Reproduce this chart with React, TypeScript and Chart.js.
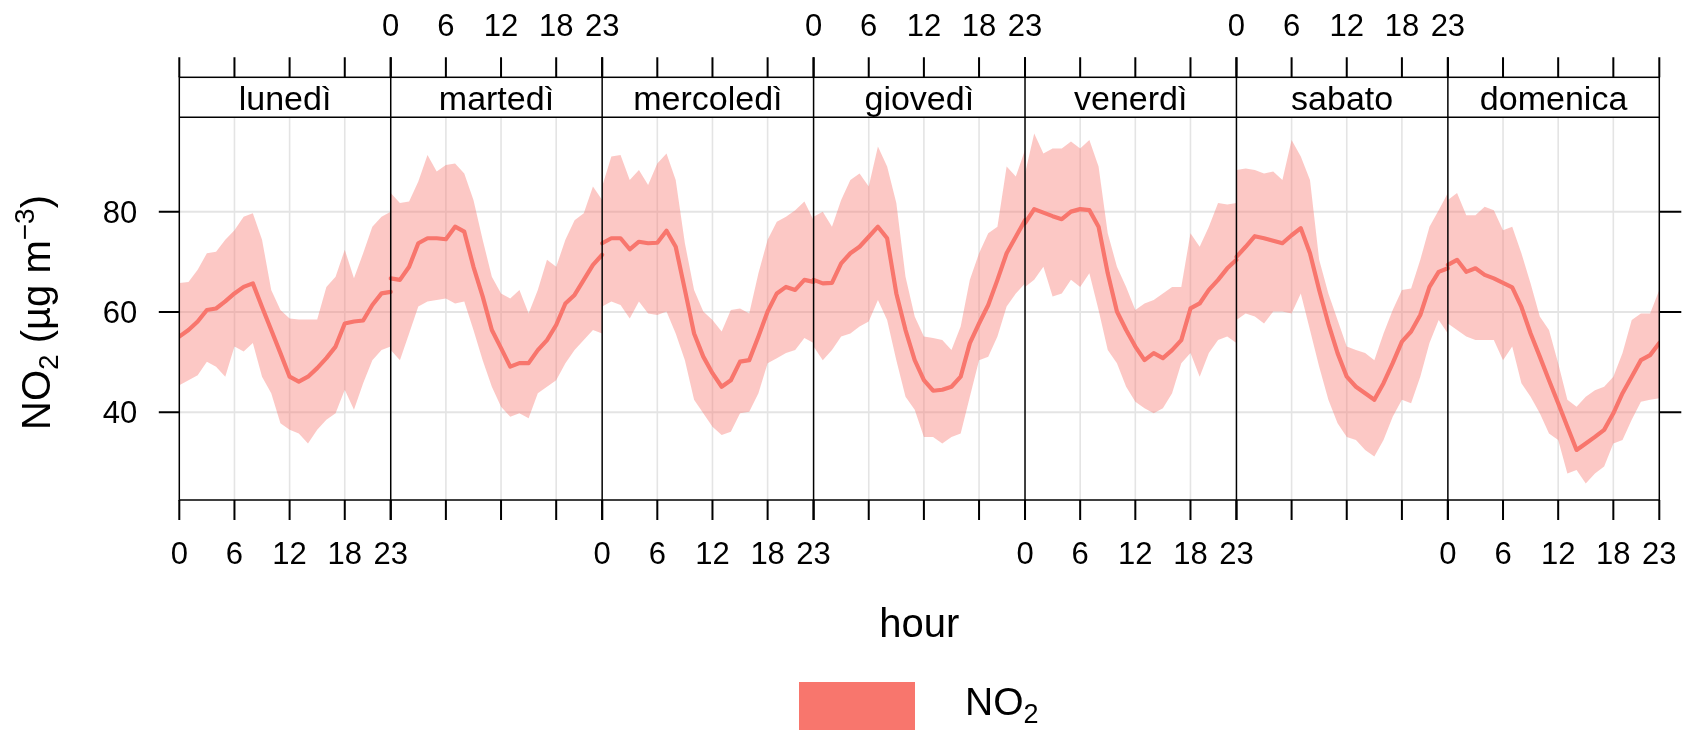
import React, { useEffect, useRef } from "react";
import { Chart, registerables } from "chart.js";

Chart.register(...registerables);

// ---------- data ----------
const days = ["lunedì", "martedì", "mercoledì", "giovedì", "venerdì", "sabato", "domenica"];
const hourTicks = [0, 6, 12, 18, 23];
const yTicks = [40, 60, 80];
const seriesName = "NO2";

const meanLun = [55.1, 56.4, 58.1, 60.4, 60.7, 62.1, 63.7, 65.0, 65.7, 61.0, 56.4, 51.8, 47.1, 46.1, 47.1, 48.8, 50.8, 53.1, 57.7, 58.1, 58.3, 61.4, 63.7, 64.0];
const upperLun = [65.8, 66.0, 68.4, 71.7, 72.0, 74.4, 76.3, 79.0, 79.7, 74.4, 64.4, 60.4, 58.7, 58.5, 58.5, 58.5, 65.0, 67.0, 72.4, 66.7, 71.7, 77.0, 79.0, 80.0];
const lowerLun = [45.4, 46.4, 47.4, 50.1, 49.1, 47.1, 53.1, 52.1, 53.8, 47.1, 43.8, 37.8, 36.5, 35.8, 33.8, 36.5, 38.5, 39.8, 44.5, 40.5, 45.8, 50.4, 52.4, 53.1];

const meanMar = [66.7, 66.4, 69.0, 73.7, 74.7, 74.7, 74.5, 77.0, 76.0, 69.0, 63.1, 56.4, 52.8, 49.1, 49.8, 49.8, 52.4, 54.4, 57.4, 61.7, 63.4, 66.4, 69.4, 71.4];
const upperMar = [83.7, 81.7, 82.0, 86.0, 91.3, 88.0, 89.3, 89.6, 87.6, 82.3, 74.4, 67.0, 63.7, 62.7, 64.4, 59.7, 64.4, 70.4, 69.0, 74.4, 78.3, 79.7, 85.0, 82.3];
const lowerMar = [52.4, 50.4, 55.7, 61.1, 62.1, 62.4, 62.7, 61.7, 62.1, 56.4, 50.4, 45.1, 41.1, 39.1, 39.8, 38.8, 43.8, 45.1, 46.4, 49.8, 52.4, 54.4, 56.4, 55.7];

const meanMer = [73.7, 74.7, 74.7, 72.5, 74.0, 73.7, 73.8, 76.2, 73.0, 64.4, 55.7, 51.1, 47.8, 45.1, 46.4, 50.1, 50.4, 55.1, 60.1, 63.7, 65.0, 64.4, 66.4, 66.0];
const upperMer = [85.0, 91.0, 91.3, 86.3, 88.3, 85.3, 89.6, 91.6, 86.3, 73.7, 64.4, 60.1, 58.4, 56.1, 60.4, 60.7, 59.7, 67.7, 74.4, 78.0, 79.0, 80.3, 82.0, 78.3];
const lowerMer = [61.1, 62.1, 61.4, 58.7, 62.1, 59.7, 59.4, 60.1, 55.7, 50.4, 42.5, 39.8, 37.1, 35.5, 36.1, 39.8, 40.1, 43.8, 49.8, 50.8, 51.8, 52.4, 54.8, 53.8];

const meanGio = [66.4, 65.7, 65.8, 69.7, 71.7, 73.0, 75.0, 77.0, 74.7, 63.7, 56.4, 50.4, 46.4, 44.3, 44.5, 45.1, 47.1, 53.8, 57.7, 61.4, 66.4, 71.7, 75.0, 78.3];
const upperGio = [79.0, 80.0, 77.0, 82.3, 86.3, 87.6, 85.0, 93.0, 89.0, 81.7, 67.0, 59.1, 55.1, 54.8, 54.4, 52.4, 57.1, 66.4, 71.7, 75.7, 77.0, 89.0, 87.0, 92.3];
const lowerGio = [53.1, 50.4, 52.4, 55.1, 55.7, 57.1, 58.1, 62.4, 58.4, 50.4, 43.1, 40.5, 35.1, 35.1, 33.8, 35.1, 35.8, 43.1, 50.4, 51.1, 55.1, 61.1, 63.7, 65.7];

const meanVen = [77.7, 80.5, 79.8, 79.1, 78.5, 80.0, 80.5, 80.3, 77.0, 67.7, 60.1, 56.4, 53.1, 50.4, 51.8, 50.8, 52.4, 54.4, 60.7, 61.7, 64.4, 66.4, 68.7, 70.4];
const upperVen = [87.6, 95.6, 91.6, 92.6, 92.6, 94.0, 92.6, 94.3, 89.0, 75.7, 69.0, 65.0, 60.4, 61.7, 62.4, 63.7, 65.0, 65.0, 75.7, 73.0, 77.0, 81.7, 81.4, 81.7];
const lowerVen = [65.0, 66.4, 69.0, 63.1, 63.7, 66.4, 65.0, 67.7, 60.4, 52.4, 49.8, 45.1, 42.1, 40.8, 39.8, 40.8, 43.8, 49.8, 51.8, 47.1, 51.8, 54.4, 55.1, 53.8];

const meanSab = [71.0, 73.0, 75.1, 74.7, 74.2, 73.7, 75.3, 76.7, 71.7, 64.4, 57.7, 51.8, 47.1, 45.1, 43.8, 42.5, 45.8, 49.8, 54.1, 56.1, 59.4, 65.0, 68.0, 68.7];
const upperSab = [88.3, 88.6, 88.3, 87.6, 88.0, 86.3, 94.3, 91.0, 86.3, 70.4, 63.7, 58.4, 53.1, 52.4, 51.8, 50.4, 55.7, 60.4, 64.4, 64.7, 70.4, 77.0, 80.3, 83.7];
const lowerSab = [58.4, 59.7, 59.1, 57.7, 60.1, 60.1, 59.7, 63.7, 56.4, 49.1, 42.5, 37.8, 35.1, 34.5, 32.5, 31.2, 34.5, 39.1, 42.5, 41.8, 47.1, 53.8, 58.4, 55.7];

const meanDom = [69.4, 70.4, 68.0, 68.7, 67.4, 66.7, 65.8, 64.9, 61.0, 55.7, 51.1, 46.4, 41.8, 37.1, 32.5, 33.8, 35.1, 36.5, 39.8, 43.8, 47.1, 50.4, 51.4, 53.8];
const upperDom = [82.3, 83.7, 79.3, 79.3, 81.0, 80.3, 76.3, 77.0, 71.7, 65.7, 59.1, 56.4, 49.8, 42.5, 41.1, 43.1, 44.4, 45.1, 47.1, 51.8, 58.4, 59.7, 59.7, 64.4];
const lowerDom = [57.7, 56.4, 55.1, 54.4, 54.4, 54.4, 50.4, 53.1, 45.8, 43.1, 39.8, 35.8, 34.5, 27.8, 28.5, 25.8, 27.8, 29.2, 33.8, 34.5, 38.5, 42.1, 42.5, 42.8];

const meanByDay = [meanLun, meanMar, meanMer, meanGio, meanVen, meanSab, meanDom];
const upperByDay = [upperLun, upperMar, upperMer, upperGio, upperVen, upperSab, upperDom];
const lowerByDay = [lowerLun, lowerMar, lowerMer, lowerGio, lowerVen, lowerSab, lowerDom];

// ---------- styling ----------
const LINE_COLOR = "#F8766D";
const RIBBON_COLOR = "rgba(248,118,109,0.40)";
const FONT = "'Liberation Sans', Arial, Helvetica, sans-serif";
const HOURS_PER_PANEL = 23;
const STRIP_H = 40;

type Seg = { t: string; size: number; dy: number };

function richWidth(ctx: CanvasRenderingContext2D, segs: Seg[]) {
  let w = 0;
  for (const s of segs) {
    ctx.font = `${s.size}px ${FONT}`;
    w += ctx.measureText(s.t).width;
  }
  return w;
}

function drawRich(ctx: CanvasRenderingContext2D, segs: Seg[], x: number, y: number, align: "left" | "center") {
  const w = richWidth(ctx, segs);
  let cx = align === "center" ? x - w / 2 : x;
  ctx.textAlign = "left";
  ctx.textBaseline = "alphabetic";
  for (const s of segs) {
    ctx.font = `${s.size}px ${FONT}`;
    ctx.fillText(s.t, cx, y + s.dy);
    cx += ctx.measureText(s.t).width;
  }
}

const latticePlugin = {
  id: "lattice",
  beforeDatasetsDraw(chart: any) {
    const { ctx, chartArea } = chart;
    const xs = chart.scales.x;
    const ys = chart.scales.y;
    const top = chartArea.top + STRIP_H;
    const bottom = chartArea.bottom;
    ctx.save();
    ctx.strokeStyle = "#e4e4e4";
    ctx.lineWidth = 2;
    for (const v of yTicks) {
      const y = ys.getPixelForValue(v);
      ctx.beginPath();
      ctx.moveTo(chartArea.left, y);
      ctx.lineTo(chartArea.right, y);
      ctx.stroke();
    }
    ctx.lineWidth = 1.6;
    for (let d = 0; d < days.length; d++) {
      for (const h of [6, 12, 18]) {
        const x = xs.getPixelForValue(d * HOURS_PER_PANEL + h);
        ctx.beginPath();
        ctx.moveTo(x, top);
        ctx.lineTo(x, bottom);
        ctx.stroke();
      }
    }
    ctx.restore();
  },
  afterDatasetsDraw(chart: any) {
    const { ctx, chartArea } = chart;
    const xs = chart.scales.x;
    const ys = chart.scales.y;
    const L = chartArea.left;
    const R = chartArea.right;
    const T = chartArea.top;
    const B = chartArea.bottom;
    const S = T + STRIP_H;
    ctx.save();

    // strips
    ctx.fillStyle = "#ffffff";
    ctx.fillRect(L, T, R - L, STRIP_H);
    ctx.fillStyle = "#000";
    ctx.font = `34px ${FONT}`;
    ctx.textAlign = "center";
    ctx.textBaseline = "alphabetic";
    for (let d = 0; d < days.length; d++) {
      const x0 = xs.getPixelForValue(d * HOURS_PER_PANEL);
      const x1 = xs.getPixelForValue((d + 1) * HOURS_PER_PANEL);
      ctx.fillText(days[d], (x0 + x1) / 2, T + 32.7);
    }

    // frame & panel boundaries
    ctx.strokeStyle = "#000";
    ctx.lineWidth = 1.5;
    ctx.strokeRect(L, T, R - L, B - T);
    ctx.beginPath();
    ctx.moveTo(L, S);
    ctx.lineTo(R, S);
    ctx.stroke();
    for (let d = 1; d < days.length; d++) {
      const x = xs.getPixelForValue(d * HOURS_PER_PANEL);
      ctx.beginPath();
      ctx.moveTo(x, T);
      ctx.lineTo(x, B);
      ctx.stroke();
    }

    // x ticks (top and bottom)
    ctx.lineWidth = 2;
    ctx.font = `31px ${FONT}`;
    ctx.textAlign = "center";
    for (let d = 0; d < days.length; d++) {
      for (const h of hourTicks) {
        const x = xs.getPixelForValue(d * HOURS_PER_PANEL + h);
        ctx.beginPath();
        ctx.moveTo(x, T - 20);
        ctx.lineTo(x, T);
        ctx.moveTo(x, B);
        ctx.lineTo(x, B + 20);
        ctx.stroke();
        if (d % 2 === 0) ctx.fillText(String(h), x, B + 64);
        else ctx.fillText(String(h), x, T - 41.3);
      }
    }

    // y ticks left (labelled) and right
    ctx.textAlign = "right";
    for (const v of yTicks) {
      const y = ys.getPixelForValue(v);
      ctx.beginPath();
      ctx.moveTo(L - 20.5, y);
      ctx.lineTo(L, y);
      ctx.moveTo(R, y);
      ctx.lineTo(R + 22, y);
      ctx.stroke();
      ctx.fillText(String(v), L - 42, y + 11);
    }

    // axis titles
    ctx.fillStyle = "#000";
    drawRich(ctx, [{ t: "hour", size: 40, dy: 0 }], (L + R) / 2, 637, "center");
    ctx.save();
    ctx.translate(50, 312.5);
    ctx.rotate(-Math.PI / 2);
    drawRich(
      ctx,
      [
        { t: "NO", size: 40, dy: 0 },
        { t: "2", size: 28, dy: 8 },
        { t: " (µg m", size: 40, dy: 0 },
        { t: "−3", size: 28, dy: -16 },
        { t: ")", size: 40, dy: 0 },
      ],
      0,
      0,
      "center"
    );
    ctx.restore();

    // legend
    ctx.fillStyle = LINE_COLOR;
    ctx.fillRect(799, 682, 116, 52);
    ctx.fillStyle = "#000";
    drawRich(
      ctx,
      [
        { t: seriesName.slice(0, 2), size: 39, dy: 0 },
        { t: seriesName.slice(2), size: 27, dy: 8 },
      ],
      965,
      715,
      "left"
    );
    ctx.restore();
  },
};

function buildDatasets() {
  const lines: any[] = [];
  const ribbons: any[] = [];
  for (let d = 0; d < days.length; d++) {
    const pts = (arr: number[]) => arr.map((v, h) => ({ x: d * HOURS_PER_PANEL + h, y: v }));
    lines.push({
      label: `${seriesName} ${days[d]}`,
      data: pts(meanByDay[d]),
      borderColor: LINE_COLOR,
      borderWidth: 4.2,
      borderJoinStyle: "round",
      borderCapStyle: "round",
      pointRadius: 0,
      fill: false,
      tension: 0,
      order: 0,
    });
  }
  for (let d = 0; d < days.length; d++) {
    const pts = (arr: number[]) => arr.map((v, h) => ({ x: d * HOURS_PER_PANEL + h, y: v }));
    ribbons.push({
      label: `upper ${days[d]}`,
      data: pts(upperByDay[d]),
      borderWidth: 0,
      borderColor: "rgba(0,0,0,0)",
      pointRadius: 0,
      fill: false,
      tension: 0,
      order: 1,
    });
    ribbons.push({
      label: `lower ${days[d]}`,
      data: pts(lowerByDay[d]),
      borderWidth: 0,
      borderColor: "rgba(0,0,0,0)",
      backgroundColor: RIBBON_COLOR,
      pointRadius: 0,
      fill: "-1",
      tension: 0,
      order: 1,
    });
  }
  return [...ribbons, ...lines];
}

export default function App() {
  const ref = useRef<HTMLCanvasElement | null>(null);
  useEffect(() => {
    document.body.style.margin = "0";
    const canvas = ref.current;
    if (!canvas) return;
    const chart = new Chart(canvas, {
      type: "line",
      data: { datasets: buildDatasets() },
      options: {
        animation: false,
        responsive: false,
        maintainAspectRatio: false,
        devicePixelRatio: 1,
        layout: { padding: { left: 179.3, right: 32.7, top: 77.3, bottom: 230 } },
        plugins: { legend: { display: false }, tooltip: { enabled: false } },
        scales: {
          x: { type: "linear", min: 0, max: days.length * HOURS_PER_PANEL, display: false },
          y: { type: "linear", min: 22.52, max: 106.78, display: false },
        },
      },
      plugins: [latticePlugin],
    } as any);
    return () => chart.destroy();
  }, []);
  return (
    <div style={{ width: 1692, height: 730, background: "#fff" }}>
      <canvas ref={ref} width={1692} height={730} style={{ display: "block", width: 1692, height: 730 }} />
    </div>
  );
}
